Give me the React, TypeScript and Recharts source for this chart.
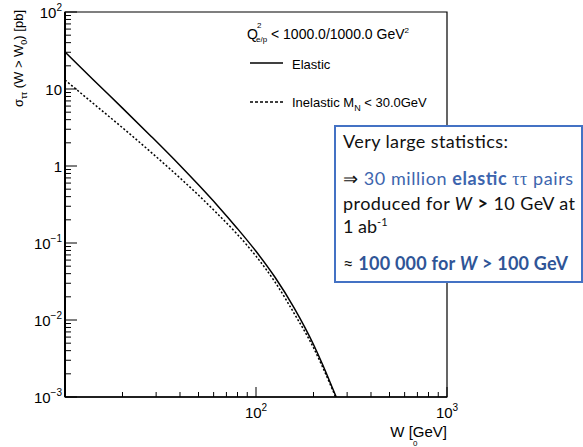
import React from 'react';
import { LineChart, Line, XAxis, YAxis, ReferenceArea } from 'recharts';

// W0 [GeV] and sigma(W > W0) [pb]
const elasticW = [10, 14.1, 20, 28.2, 39.8, 50.1, 63.1, 79.4, 100, 126, 158, 200, 224, 251, 263];
const elasticXsec = [30.3, 13.1, 5.65, 2.44, 1.03, 0.565, 0.303, 0.157, 0.078, 0.0356, 0.0145, 0.0048, 0.00258, 0.00132, 0.001];
const inelasticW = [10, 14.1, 20, 28.2, 39.8, 50.1, 63.1, 79.4, 100, 126, 158, 200, 224, 251, 261];
const inelasticXsec = [13.1, 6.45, 3.14, 1.51, 0.707, 0.416, 0.237, 0.1317, 0.0675, 0.0309, 0.0123, 0.00436, 0.0024, 0.00126, 0.001];

const xTicks = [10, 20, 30, 40, 50, 60, 70, 80, 90, 100, 200, 300, 400, 500, 600, 700, 800, 900, 1000];
const yTicks = [
  0.001, 0.002, 0.003, 0.004, 0.005, 0.006, 0.007, 0.008, 0.009,
  0.01, 0.02, 0.03, 0.04, 0.05, 0.06, 0.07, 0.08, 0.09,
  0.1, 0.2, 0.3, 0.4, 0.5, 0.6, 0.7, 0.8, 0.9,
  1, 2, 3, 4, 5, 6, 7, 8, 9,
  10, 20, 30, 40, 50, 60, 70, 80, 90, 100,
];

const elasticData = elasticW.map((w, i) => ({ w, s: elasticXsec[i] }));
const inelasticData = inelasticW.map((w, i) => ({ w, s: inelasticXsec[i] }));

const FONT = '"Liberation Sans", Arial, sans-serif';
const BOX_FONT = 'Lato, "Open Sans", sans-serif';
const BLUE = '#3D65AE';
const BLUE_BOLD = '#2F5597';

const isMajor = (v: number) => {
  const e = Math.round(Math.log10(v));
  return { e, major: Math.abs(v / Math.pow(10, e) - 1) < 1e-6 };
};

const XTick = (props: any) => {
  const { x, y, payload } = props;
  const { e, major } = isMajor(payload.value);
  return (
    <g>
      <line x1={x} x2={x} y1={y} y2={y - (major ? 10 : 5)} stroke="#000" strokeWidth={1} />
      {major && e >= 2 && (
        <text x={x} y={y + 21} textAnchor="middle" fontSize={15} fontFamily={FONT} fill="#000">
          10<tspan dy={-7} fontSize={10}>{e}</tspan>
        </text>
      )}
    </g>
  );
};

const YTick = (props: any) => {
  const { x, y, payload } = props;
  const { e, major } = isMajor(payload.value);
  let label: any = null;
  if (major) {
    if (e === 1) label = '10';
    else if (e === 0) label = '1';
    else
      label = (
        <>
          10<tspan dy={-7} fontSize={10}>{e < 0 ? '\u2212' + Math.abs(e) : e}</tspan>
        </>
      );
  }
  return (
    <g>
      <line x1={x} x2={x + (major ? 12 : 6)} y1={y} y2={y} stroke="#000" strokeWidth={1} />
      {label && (
        <text x={x - 3} y={y + 6} textAnchor="end" fontSize={15} fontFamily={FONT} fill="#000">
          {label}
        </text>
      )}
    </g>
  );
};

export default function App() {
  return (
    <div style={{ position: 'absolute', left: 0, top: 0, width: 583, height: 447, background: '#fff' }}>
      <LineChart width={583} height={447} margin={{ top: 12, right: 136, bottom: 0, left: 5 }}>
        <XAxis
          type="number"
          dataKey="w"
          scale="log"
          domain={[10, 1000]}
          allowDataOverflow
          ticks={xTicks}
          interval={0}
          height={50}
          tickSize={0}
          tickMargin={0}
          tickLine={false}
          axisLine={{ stroke: '#000', strokeWidth: 1.5 }}
          tick={(p: any) => <XTick {...p} />}
        />
        <YAxis
          type="number"
          dataKey="s"
          scale="log"
          domain={[0.001, 100]}
          allowDataOverflow
          ticks={yTicks}
          interval={0}
          width={60}
          tickSize={0}
          tickMargin={0}
          tickLine={false}
          axisLine={{ stroke: '#000', strokeWidth: 2 }}
          tick={(p: any) => <YTick {...p} />}
        />
        <ReferenceArea x1={10} x2={1000} y1={0.001} y2={100} fill="none" stroke="#000" strokeWidth={1.2} />
        <Line
          data={inelasticData}
          dataKey="s"
          type="monotone"
          stroke="#000"
          strokeWidth={1.5}
          strokeDasharray="2 2"
          dot={false}
          isAnimationActive={false}
        />
        <Line
          data={elasticData}
          dataKey="s"
          type="monotone"
          stroke="#000"
          strokeWidth={1.5}
          dot={false}
          isAnimationActive={false}
        />
      </LineChart>
      <svg
        width={583}
        height={447}
        style={{ position: 'absolute', left: 0, top: 0, pointerEvents: 'none' }}
      >
        {/* Y axis title */}
        <text transform="translate(23,10) rotate(-90)" textAnchor="end" fontSize={13} fontFamily={FONT} fill="#000">
          σ<tspan dy={4} fontSize={9}>ττ</tspan>
          <tspan dy={-4}> (W &gt; W</tspan>
          <tspan dy={4} fontSize={9}>0</tspan>
          <tspan dy={-4}>) [pb]</tspan>
        </text>
        {/* X axis title */}
        <text x={447} y={437} textAnchor="end" fontSize={15} fontFamily={FONT} fill="#000">
          W [GeV]
        </text>
        <text x={413} y={446} fontSize={8} fontFamily={FONT} fill="#000">0</text>

        {/* Legend */}
        <text x={247} y={39} fontSize={14} fontFamily={FONT} fill="#000">Q</text>
        <text x={257} y={28} fontSize={8} fontFamily={FONT} fill="#000">2</text>
        <text x={256} y={42} fontSize={8} fontFamily={FONT} fill="#000">e/p</text>
        <text x={271} y={39} fontSize={14} fontFamily={FONT} fill="#000">
          &lt; 1000.0/1000.0 GeV<tspan dy={-6} fontSize={8}>2</tspan>
        </text>
        <line x1={250} x2={283} y1={63} y2={63} stroke="#000" strokeWidth={1.5} />
        <text x={292} y={69} fontSize={13} fontFamily={FONT} fill="#000">Elastic</text>
        <line x1={250} x2={283} y1={102} y2={102} stroke="#000" strokeWidth={1.5} strokeDasharray="3 2" />
        <text x={292} y={107} fontSize={13} fontFamily={FONT} fill="#000">
          Inelastic M<tspan dy={4} fontSize={9}>N</tspan>
          <tspan dy={-4}> &lt; 30.0GeV</tspan>
        </text>

        {/* Annotation box */}
        <rect x={335} y={126} width={247} height={156} fill="#fff" stroke="#4472C4" strokeWidth={2} />
        <text x={343} y={148} fontSize={18} fontFamily={BOX_FONT} fill="#111" textLength={165} lengthAdjust="spacing">
          Very large statistics:
        </text>
        <text x={343} y={185} fontSize={18} fontFamily={BOX_FONT} fill={BLUE} textLength={230} lengthAdjust="spacing">
          <tspan fill="#111">⇒</tspan> 30 million <tspan fontWeight="bold">elastic</tspan>{' '}
          <tspan fontFamily='"Liberation Serif", serif'>ττ</tspan> pairs
        </text>
        <text x={343} y={210} fontSize={18} fontFamily={BOX_FONT} fill="#111" textLength={232} lengthAdjust="spacing">
          produced for <tspan fontStyle="italic">W</tspan> <tspan fontWeight="bold">&gt;</tspan> 10 GeV at
        </text>
        <text x={343} y={233} fontSize={18} fontFamily={BOX_FONT} fill="#111">
          1 ab<tspan dy={-7} fontSize={11}>-1</tspan>
        </text>
        <text x={343} y={270} fontSize={18} fontFamily={BOX_FONT} fill={BLUE_BOLD} fontWeight="bold" textLength={225} lengthAdjust="spacing">
          <tspan fill="#111" fontWeight="normal">≈</tspan> 100 000 for <tspan fontStyle="italic">W</tspan> &gt; 100 GeV
        </text>
      </svg>
    </div>
  );
}
